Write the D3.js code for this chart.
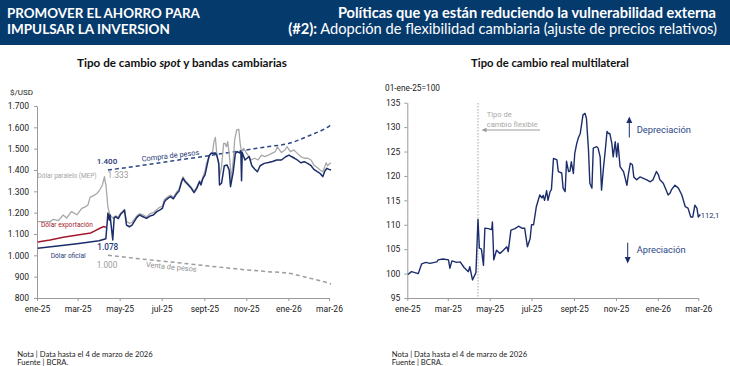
<!DOCTYPE html>
<html><head><meta charset="utf-8">
<script src="https://cdn.jsdelivr.net/npm/d3@7"></script>
<style>body{margin:0;background:#fff}svg{display:block}</style>
</head><body>
<script>
// ---------------- DATA ----------------
const monthTicks = ["2025-01-01","2025-03-01","2025-05-01","2025-07-01","2025-09-01","2025-11-01","2026-01-01","2026-03-01"];
const monthLabels = ["ene-25","mar-25","may-25","jul-25","sept-25","nov-25","ene-26","mar-26"];
const leftYTicks = [800,900,1000,1100,1200,1300,1400,1500,1600,1700];
const rightYTicks = [95,100,105,110,115,120,125,130,135];

const oficial = [
["2025-01-02",1033],["2025-02-03",1045],["2025-03-03",1056],["2025-04-01",1068],["2025-04-11",1078],
["2025-04-14",1198],["2025-04-16",1165],["2025-04-17",1190],["2025-04-21",1072],["2025-04-23",1175],["2025-04-25",1181],["2025-04-29",1172],["2025-05-03",1195],["2025-05-05",1200],["2025-05-08",1212],["2025-05-11",1142],["2025-05-15",1134],["2025-05-19",1142],["2025-05-26",1178],["2025-05-30",1189],["2025-06-04",1181],["2025-06-09",1173],["2025-06-14",1184],["2025-06-19",1189],["2025-06-24",1205],["2025-06-28",1212],["2025-07-02",1220],["2025-07-05",1250],["2025-07-07",1259],["2025-07-10",1267],["2025-07-14",1275],["2025-07-18",1265],["2025-07-23",1290],["2025-07-26",1300],["2025-07-30",1345],["2025-08-01",1361],["2025-08-04",1345],["2025-08-08",1332],["2025-08-13",1314],["2025-08-17",1294],["2025-08-21",1314],["2025-08-25",1345],["2025-08-27",1330],["2025-08-30",1361],["2025-09-02",1377],["2025-09-05",1423],["2025-09-08",1468],["2025-09-11",1478],["2025-09-17",1480],["2025-09-19",1470],["2025-09-22",1431],["2025-09-23",1330],["2025-09-26",1338],["2025-09-30",1420],["2025-10-04",1423],["2025-10-07",1400],["2025-10-09",1322],["2025-10-13",1392],["2025-10-16",1478],["2025-10-19",1486],["2025-10-22",1480],["2025-10-24",1489],["2025-10-25",1350],["2025-10-26",1482],["2025-10-30",1447],["2025-11-02",1455],["2025-11-05",1463],["2025-11-09",1420],["2025-11-13",1405],["2025-11-17",1392],["2025-11-21",1420],["2025-11-27",1431],["2025-12-03",1435],["2025-12-09",1440],["2025-12-15",1447],["2025-12-22",1447],["2025-12-28",1462],["2026-01-02",1470],["2026-01-06",1462],["2026-01-10",1455],["2026-01-14",1447],["2026-01-19",1434],["2026-01-24",1439],["2026-01-29",1431],["2026-02-03",1420],["2026-02-07",1403],["2026-02-12",1392],["2026-02-16",1384],["2026-02-20",1369],["2026-02-23",1395],["2026-02-26",1408],["2026-03-01",1403],["2026-03-04",1400]
];

const mep = [
["2025-01-02",1158],["2025-01-20",1158],["2025-01-25",1169],["2025-02-01",1163],["2025-02-08",1189],["2025-02-13",1175],["2025-02-20",1205],["2025-02-28",1190],["2025-03-07",1220],["2025-03-12",1227],["2025-03-16",1236],["2025-03-19",1272],["2025-03-24",1280],["2025-03-29",1290],["2025-04-02",1306],["2025-04-06",1330],["2025-04-09",1369],["2025-04-10",1345],["2025-04-11",1333],["2025-04-14",1225],["2025-04-17",1190],["2025-04-21",1175],["2025-04-25",1185],["2025-04-29",1180],["2025-05-03",1200],["2025-05-08",1215],["2025-05-11",1160],["2025-05-15",1150],["2025-05-19",1155],["2025-05-26",1185],["2025-05-30",1195],["2025-06-04",1190],["2025-06-09",1180],["2025-06-14",1195],["2025-06-19",1200],["2025-06-24",1215],["2025-06-28",1225],["2025-07-02",1230],["2025-07-05",1262],["2025-07-07",1268],["2025-07-10",1275],["2025-07-14",1282],["2025-07-18",1272],["2025-07-23",1298],["2025-07-26",1308],["2025-07-30",1350],["2025-08-01",1368],["2025-08-04",1352],["2025-08-08",1338],["2025-08-13",1320],["2025-08-17",1300],["2025-08-21",1320],["2025-08-25",1350],["2025-08-27",1338],["2025-08-30",1369],["2025-09-02",1395],["2025-09-04",1431],["2025-09-09",1470],["2025-09-13",1486],["2025-09-15",1533],["2025-09-17",1553],["2025-09-19",1478],["2025-09-22",1420],["2025-09-23",1369],["2025-09-26",1416],["2025-09-29",1525],["2025-10-01",1525],["2025-10-03",1509],["2025-10-05",1533],["2025-10-08",1447],["2025-10-10",1353],["2025-10-13",1447],["2025-10-15",1541],["2025-10-18",1588],["2025-10-21",1591],["2025-10-23",1525],["2025-10-25",1486],["2025-10-28",1502],["2025-10-31",1486],["2025-11-04",1466],["2025-11-08",1447],["2025-11-13",1455],["2025-11-18",1447],["2025-11-23",1470],["2025-11-28",1463],["2025-12-03",1470],["2025-12-08",1478],["2025-12-13",1486],["2025-12-16",1509],["2025-12-19",1494],["2025-12-22",1482],["2025-12-27",1494],["2025-12-30",1509],["2026-01-04",1486],["2026-01-09",1494],["2026-01-14",1478],["2026-01-19",1463],["2026-01-24",1455],["2026-01-29",1455],["2026-02-03",1447],["2026-02-07",1423],["2026-02-12",1412],["2026-02-16",1400],["2026-02-20",1392],["2026-02-23",1416],["2026-02-25",1434],["2026-02-27",1419],["2026-03-02",1431],["2026-03-04",1431]
];

const exportacion = [["2025-01-02",1062],["2025-01-20",1072],["2025-02-08",1085],["2025-03-01",1095],["2025-03-20",1105],["2025-03-26",1115],["2025-04-03",1128],["2025-04-08",1135],["2025-04-11",1132]];

const bandaCompra = [["2025-04-14",1400],["2025-05-01",1407],["2025-06-01",1421],["2025-07-01",1435],["2025-08-01",1450],["2025-09-01",1464],["2025-10-01",1479],["2025-11-01",1494],["2025-12-01",1509],["2026-01-01",1524],["2026-02-01",1562],["2026-03-01",1605],["2026-03-04",1612]];
const bandaVenta = [["2025-04-14",1000],["2025-05-01",994],["2025-06-01",983],["2025-07-01",973],["2025-08-01",963],["2025-09-01",952],["2025-10-01",942],["2025-11-01",932],["2025-12-01",924],["2026-01-01",916],["2026-02-01",893],["2026-03-01",869],["2026-03-04",866]];

const tcrm = [
["2025-01-02",99.8],["2025-01-07",100.4],["2025-01-17",100.0],["2025-01-22",102.0],["2025-01-28",102.3],["2025-02-03",102.1],["2025-02-13",102.4],["2025-02-15",102.8],["2025-02-22",103.0],["2025-03-02",102.8],["2025-03-04",101.1],["2025-03-07",102.6],["2025-03-14",102.3],["2025-03-19",102.4],["2025-03-25",101.2],["2025-03-31",100.4],["2025-04-02",101.4],["2025-04-06",98.7],["2025-04-11",100.2],
["2025-04-14",111.1],["2025-04-16",105.2],["2025-04-19",105.0],["2025-04-22",101.7],["2025-04-24",109.3],["2025-04-29",109.2],["2025-05-04",109.0],["2025-05-05",110.6],["2025-05-07",102.8],["2025-05-11",104.8],["2025-05-16",104.1],["2025-05-21",104.8],["2025-05-26",105.5],["2025-05-28",104.5],["2025-06-01",108.9],["2025-06-07",109.2],["2025-06-12",109.7],["2025-06-17",109.3],["2025-06-21",109.3],["2025-06-25",105.5],["2025-06-29",107.2],["2025-07-01",110.0],["2025-07-04",110.0],["2025-07-08",113.7],["2025-07-13",116.1],["2025-07-16",115.5],["2025-07-18",116.0],["2025-07-20",115.0],["2025-07-23",117.0],["2025-07-25",115.0],["2025-07-28",116.8],["2025-07-30",117.2],["2025-08-02",123.6],["2025-08-07",123.3],["2025-08-09",120.9],["2025-08-14",120.6],["2025-08-16",117.5],["2025-08-19",116.8],["2025-08-21",123.0],["2025-08-24",120.9],["2025-08-26",121.0],["2025-08-28",122.9],["2025-08-31",120.5],["2025-09-02",124.6],["2025-09-05",126.7],["2025-09-07",127.7],["2025-09-10",128.7],["2025-09-14",132.5],["2025-09-17",132.8],["2025-09-19",131.8],["2025-09-22",125.3],["2025-09-24",118.5],["2025-09-27",117.5],["2025-09-29",125.7],["2025-10-04",126.0],["2025-10-06",125.7],["2025-10-09",123.9],["2025-10-11",117.1],["2025-10-14",121.9],["2025-10-16",124.6],["2025-10-19",129.1],["2025-10-21",128.7],["2025-10-23",128.7],["2025-10-26",126.7],["2025-10-28",123.9],["2025-10-31",127.0],["2025-11-02",123.9],["2025-11-04",126.7],["2025-11-07",121.9],["2025-11-12",120.9],["2025-11-14",119.8],["2025-11-17",118.1],["2025-11-19",120.2],["2025-11-22",122.6],["2025-11-25",122.3],["2025-11-27",119.8],["2025-12-01",119.2],["2025-12-06",119.8],["2025-12-11",119.5],["2025-12-16",119.2],["2025-12-21",118.8],["2025-12-25",119.2],["2025-12-30",120.9],["2026-01-02",120.2],["2026-01-04",119.2],["2026-01-09",118.5],["2026-01-14",116.8],["2026-01-16",116.1],["2026-01-19",116.5],["2026-01-21",117.2],["2026-01-26",118.1],["2026-01-31",117.5],["2026-02-05",116.1],["2026-02-10",113.7],["2026-02-14",113.4],["2026-02-18",111.6],["2026-02-21",111.6],["2026-02-24",114.0],["2026-02-27",113.4],["2026-03-01",111.6],["2026-03-04",112.1]
];
const flexDate = "2025-04-14";

// ---------------- DRAW ----------------
const W = 730, H = 366;
const parse = d3.timeParse("%Y-%m-%d");
const pts = arr => arr.map(([d, v]) => ({d: parse(d), v}));
const svg = d3.select("body").append("svg").attr("width", W).attr("height", H);

function label(x, y, s, o = {}) {
  const t = svg.append("text").attr("x", x).attr("y", y)
    .attr("font-family", o.family || "Roboto")
    .attr("font-size", o.size || 8)
    .attr("font-weight", o.weight || 400)
    .attr("font-style", o.style || "normal")
    .attr("fill", o.color || "#222")
    .attr("text-anchor", o.anchor || "start");
  if (o.html) t.html(s); else t.text(s);
  if (o.width) {
    const len = t.node().getComputedTextLength();
    t.attr("font-size", ((o.size || 8) * o.width / len).toFixed(2));
  }
  if (o.rotate) t.attr("transform", `rotate(${o.rotate},${x},${y})`);
  return t;
}

// header
svg.append("rect").attr("x", 0).attr("y", 0).attr("width", W).attr("height", 45).attr("fill", "#053a6d");
label(7, 17.5, "PROMOVER EL AHORRO PARA", {family: "Lato", size: 15, weight: 700, color: "#fff", width: 193});
label(7, 33.5, "IMPULSAR LA INVERSION", {family: "Lato", size: 15, weight: 700, color: "#fff", width: 163});
label(716, 17.5, "Políticas que ya están reduciendo la vulnerabilidad externa", {family: "Lato", size: 15, weight: 700, color: "#fff", anchor: "end", width: 378});
label(717, 33.5, '<tspan font-weight="700">(#2):</tspan> Adopción de flexibilidad cambiaria (ajuste de precios relativos)', {family: "Lato", size: 15, color: "#fff", anchor: "end", width: 429, html: true});

// titles
label(182, 67, 'Tipo de cambio <tspan font-style="italic">spot</tspan> y bandas cambiarias', {family: "Lato", size: 11, weight: 700, color: "#111", anchor: "middle", width: 210, html: true});
label(550, 67, "Tipo de cambio real multilateral", {family: "Lato", size: 11, weight: 700, color: "#111", anchor: "middle", width: 158});

const tickDates = monthTicks.map(parse);
function styleAxis(g) {
  g.select(".domain").attr("stroke", "#9a9a9a");
  g.selectAll(".tick line").attr("stroke", "#9a9a9a");
  g.selectAll(".tick text").attr("font-family", "Roboto").attr("font-size", 8.5).attr("fill", "#222");
}

// ---- LEFT CHART ----
const x1 = d3.scaleTime().domain([parse("2025-01-01"), parse("2026-03-01")]).range([37, 329]);
const y1 = d3.scaleLinear().domain([800, 1700]).range([298, 106]);
const fmtThousands = d => d3.format(",")(d).replace(/,/g, ".");

svg.append("g").attr("transform", "translate(0,298)")
  .call(d3.axisBottom(x1).tickValues(tickDates).tickFormat((d, i) => monthLabels[i]).tickSize(3).tickSizeOuter(0).tickPadding(5))
  .call(styleAxis);
svg.append("g").attr("transform", "translate(37,0)")
  .call(d3.axisLeft(y1).tickValues(leftYTicks).tickFormat(fmtThousands).tickSize(3).tickSizeOuter(0).tickPadding(5))
  .call(styleAxis);

const line1 = d3.line().x(d => x1(d.d)).y(d => y1(d.v));
const line1s = d3.line().x(d => x1(d.d)).y(d => y1(d.v)).curve(d3.curveMonotoneX);

svg.append("path").datum(pts(bandaVenta)).attr("d", line1s).attr("fill", "none")
  .attr("stroke", "#9d9d9d").attr("stroke-width", 1.5).attr("stroke-dasharray", "4,3");
svg.append("path").datum(pts(bandaCompra)).attr("d", line1s).attr("fill", "none")
  .attr("stroke", "#2c4785").attr("stroke-width", 1.5).attr("stroke-dasharray", "4,3");
svg.append("path").datum(pts(mep)).attr("d", line1).attr("fill", "none")
  .attr("stroke", "#a8a8a8").attr("stroke-width", 1.3).attr("stroke-linejoin", "round");
svg.append("path").datum(pts(exportacion)).attr("d", line1).attr("fill", "none")
  .attr("stroke", "#a3192f").attr("stroke-width", 1.5);
svg.append("path").datum(pts(oficial)).attr("d", line1).attr("fill", "none")
  .attr("stroke", "#1b2d6b").attr("stroke-width", 1.5).attr("stroke-linejoin", "round");

label(10, 95, "$/USD", {size: 8.5, width: 23});
label(37.5, 178, "Dólar paralelo (MEP)", {size: 7, color: "#a3a3a3", width: 59});
label(107.5, 177.5, "1.333", {size: 9, color: "#9a9a9a", width: 21});
label(96.7, 163.5, "1.400", {size: 9, weight: 500, color: "#1f3a78", width: 20.6});
label(142, 161.5, "Compra de pesos", {size: 8, color: "#1f3a78", width: 58, rotate: -6.5});
label(41, 227, "Dólar exportación", {size: 8, color: "#a3192f", width: 52});
label(97.3, 250, "1.078", {size: 9, weight: 500, color: "#1f3a78", width: 21});
label(50.7, 258, "Dólar oficial", {size: 7.5, color: "#1f3a78", width: 35});
label(96.7, 268, "1.000", {size: 9, color: "#9a9a9a", width: 20.6});
label(145.7, 267, "Venta de pesos", {size: 8, color: "#8f8f8f", width: 51, rotate: 5.5});

// ---- RIGHT CHART ----
const x2 = d3.scaleTime().domain([parse("2025-01-01"), parse("2026-03-01")]).range([407.3, 698.3]);
const y2 = d3.scaleLinear().domain([95, 135]).range([298, 102.7]);

svg.append("g").attr("transform", "translate(0,298)")
  .call(d3.axisBottom(x2).tickValues(tickDates).tickFormat((d, i) => monthLabels[i]).tickSize(3).tickSizeOuter(0).tickPadding(5))
  .call(styleAxis);
svg.append("g").attr("transform", "translate(407.3,0)")
  .call(d3.axisLeft(y2).tickValues(rightYTicks).tickSize(3).tickSizeOuter(0).tickPadding(4))
  .call(styleAxis);

const fx = x2(parse(flexDate));
svg.append("line").attr("x1", fx).attr("x2", fx).attr("y1", 103).attr("y2", 298)
  .attr("stroke", "#b5b5b5").attr("stroke-width", 1.2).attr("stroke-dasharray", "1.5,1.5");

const line2 = d3.line().x(d => x2(d.d)).y(d => y2(d.v));
svg.append("path").datum(pts(tcrm)).attr("d", line2).attr("fill", "none")
  .attr("stroke", "#1b2d6b").attr("stroke-width", 1.4).attr("stroke-linejoin", "round");

label(385, 91, "01-ene-25=100", {size: 8.5, width: 55});
label(486.7, 116.5, "Tipo de", {size: 7.5, color: "#a8a8a8", width: 25});
label(486.7, 127, "cambio flexible", {size: 7.5, color: "#a8a8a8", width: 51});
// flexible arrow
svg.append("line").attr("x1", 540).attr("x2", 485).attr("y1", 130).attr("y2", 130).attr("stroke", "#9a9a9a").attr("stroke-width", 1);
svg.append("path").attr("d", "M481.5,130 L486.5,127.8 L486.5,132.2 Z").attr("fill", "#9a9a9a");

label(636.7, 132.5, "Depreciación", {size: 9, color: "#2c4785", width: 54.3});
svg.append("line").attr("x1", 629.3).attr("x2", 629.3).attr("y1", 137.5).attr("y2", 122).attr("stroke", "#1b2d6b").attr("stroke-width", 1);
svg.append("path").attr("d", "M629.3,116.5 L626.3,123 L632.3,123 Z").attr("fill", "#1b2d6b");
label(636.7, 252.5, "Apreciación", {size: 9, color: "#2c4785", width: 49});
svg.append("line").attr("x1", 627.7).attr("x2", 627.7).attr("y1", 242.7).attr("y2", 257).attr("stroke", "#1b2d6b").attr("stroke-width", 1);
svg.append("path").attr("d", "M627.7,263.5 L624.7,257 L630.7,257 Z").attr("fill", "#1b2d6b");

label(700.7, 218.3, "112,1", {size: 8.5, color: "#1b2d6b", width: 18.6});

// footnotes
const n1 = label(17.3, 356.5, "Nota | Data hasta el 4 de marzo de 2026", {family: "Lato", size: 8, color: "#222", width: 135.4});
const fs = n1.attr("font-size");
label(17.3, 365, "Fuente | BCRA.", {family: "Lato", size: +fs, color: "#222"});
label(391.7, 356.5, "Nota | Data hasta el 4 de marzo de 2026", {family: "Lato", size: +fs, color: "#222"});
label(391.7, 365, "Fuente | BCRA.", {family: "Lato", size: +fs, color: "#222"});
</script>
</body></html>
